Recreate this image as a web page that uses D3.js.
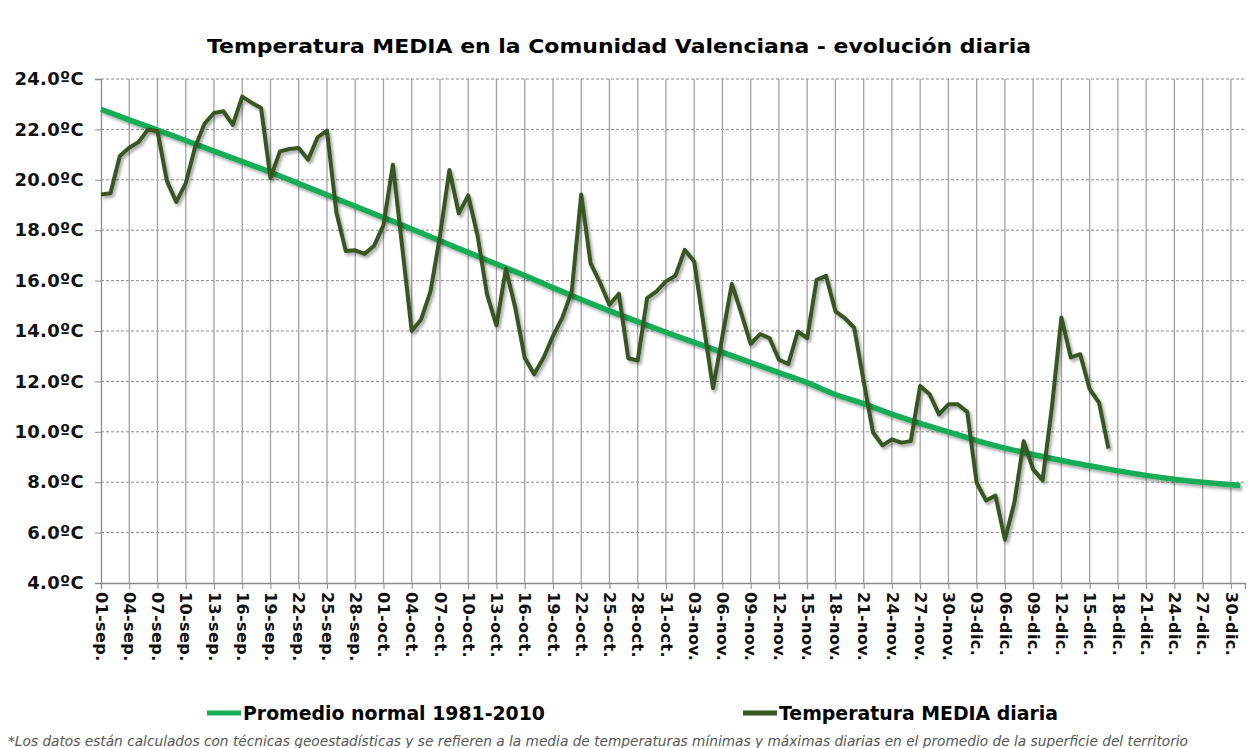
<!DOCTYPE html>
<html>
<head>
<meta charset="utf-8">
<script src="https://cdn.jsdelivr.net/npm/d3@7"></script>
<style>
  body { margin: 0; background: #fff; }
  text { font-family: "DejaVu Sans", Verdana, sans-serif; }
</style>
</head>
<body>
<svg id="chart" width="1248" height="748"></svg>
<script>
// temperatura media diaria, desde el 01-sep.
const dailyTemp = [
  19.42, 19.47, 20.94, 21.27, 21.5, 22.0, 21.93, 19.95, 19.12, 19.87,
  21.3, 22.23, 22.65, 22.72, 22.18, 23.3, 23.06, 22.85, 20.07, 21.13,
  21.22, 21.26, 20.8, 21.68, 21.95, 18.7, 17.17, 17.2, 17.06, 17.38,
  18.2, 20.6, 17.3, 14.0, 14.46, 15.58, 17.77, 20.39, 18.67, 19.38,
  17.77, 15.45, 14.22, 16.47, 14.92, 12.94, 12.28, 12.94, 13.8, 14.53,
  15.58, 19.42, 16.68, 15.92, 15.04, 15.48, 12.92, 12.83, 15.3, 15.57,
  15.97, 16.19, 17.22, 16.76, 14.25, 11.73, 13.8, 15.87, 14.71, 13.49,
  13.88, 13.72, 12.86, 12.69, 13.98, 13.72, 16.03, 16.19, 14.78, 14.51,
  14.12, 12.0, 9.97, 9.46, 9.7, 9.57, 9.63, 11.82, 11.49, 10.69,
  11.09, 11.09, 10.79, 7.98, 7.27, 7.47, 5.72, 7.18, 9.63, 8.51,
  8.08, 11.0, 14.54, 12.95, 13.08, 11.69, 11.16, 9.33
]

// promedio normal 1981-2010 (dia desde el 01-sep.)
const normalDay = [0, 3, 6, 9, 12, 15, 18, 21, 24, 27, 30, 33, 36, 39, 42, 45, 48, 51, 54, 57,
  60, 63, 66, 69, 72, 75, 78, 81, 84, 87, 90, 93, 96, 99, 102, 105, 108, 111, 114, 117, 120, 121]
const normalTemp = [22.8, 22.38, 21.97, 21.56, 21.14, 20.72, 20.3, 19.85, 19.4, 18.95,
  18.5, 18.05, 17.58, 17.12, 16.66, 16.2, 15.72, 15.25, 14.8, 14.37,
  13.95, 13.55, 13.15, 12.75, 12.35, 11.95, 11.48, 11.12, 10.7, 10.33,
  10.0, 9.65, 9.35, 9.1, 8.86, 8.65, 8.45, 8.27, 8.12, 8.0, 7.9, 7.87]

const xTickLabels = ['01-sep.', '04-sep.', '07-sep.', '10-sep.', '13-sep.', '16-sep.', '19-sep.',
  '22-sep.', '25-sep.', '28-sep.', '01-oct.', '04-oct.', '07-oct.', '10-oct.', '13-oct.',
  '16-oct.', '19-oct.', '22-oct.', '25-oct.', '28-oct.', '31-oct.', '03-nov.', '06-nov.',
  '09-nov.', '12-nov.', '15-nov.', '18-nov.', '21-nov.', '24-nov.', '27-nov.', '30-nov.',
  '03-dic.', '06-dic.', '09-dic.', '12-dic.', '15-dic.', '18-dic.', '21-dic.', '24-dic.',
  '27-dic.', '30-dic.']
const yTicks = [4, 6, 8, 10, 12, 14, 16, 18, 20, 22, 24]

const title = 'Temperatura MEDIA en la Comunidad Valenciana - evolución diaria'
const legendNames = ['Promedio normal 1981-2010', 'Temperatura MEDIA diaria']
const footnote = '*Los datos están calculados  con técnicas geoestadísticas y se refieren a la media de temperaturas mínimas y máximas diarias en el promedio de la superficie del territorio'

const margin = {left: 101, right: 3, top: 79, bottom: 165}
const width = 1248
const height = 748
const NORMAL_COLOR = '#16ad57'
const DAILY_COLOR = '#375623'

const svg = d3.select('#chart')

const x = d3.scaleLinear().domain([0, 121.5]).range([margin.left, width - margin.right])
const y = d3.scaleLinear().domain([4, 24]).range([height - margin.bottom, margin.top])

const defs = svg.append('defs')
const shadow = defs.append('filter').attr('id', 'shadow')
  .attr('x', '-5%').attr('y', '-5%').attr('width', '110%').attr('height', '115%')
shadow.append('feDropShadow')
  .attr('dx', 2).attr('dy', 2.5).attr('stdDeviation', 1.8)
  .attr('flood-color', '#000').attr('flood-opacity', 0.35)

// title
svg.append('text')
  .attr('x', 619).attr('y', 53)
  .attr('text-anchor', 'middle')
  .attr('font-size', 19.5).attr('font-weight', 'bold')
  .attr('textLength', 824).attr('lengthAdjust', 'spacingAndGlyphs')
  .text(title)

// horizontal dashed grid
svg.append('g')
  .selectAll('line')
  .data(yTicks.slice(1))
  .enter()
  .append('line')
  .attr('x1', x(0)).attr('x2', x(121.5))
  .attr('y1', d => y(d)).attr('y2', d => y(d))
  .attr('stroke', '#8a8a8a').attr('stroke-width', 1)
  .attr('stroke-dasharray', '3,2')

// vertical grid
const tickDays = xTickLabels.map((d, i) => i * 3)
svg.append('g')
  .selectAll('line')
  .data(tickDays.slice(1))
  .enter()
  .append('line')
  .attr('x1', d => x(d)).attr('x2', d => x(d))
  .attr('y1', y(24)).attr('y2', y(4))
  .attr('stroke', '#a2a2a2').attr('stroke-width', 1.3)

// axes
const yAxis = svg.append('g')
  .attr('transform', `translate(${x(0)},0)`)
  .call(d3.axisLeft(y).tickValues(yTicks).tickSize(6).tickPadding(11)
    .tickFormat(d => d3.format('.1f')(d) + 'ºC'))
yAxis.select('.domain').attr('stroke', '#8a8a8a').attr('stroke-width', 1.3)
yAxis.selectAll('.tick line').attr('stroke', '#8a8a8a')
yAxis.selectAll('.tick text')
  .attr('font-size', 18).attr('font-weight', 'bold').attr('fill', '#111')
  .attr('letter-spacing', 0.3)
  .attr('font-family', '"DejaVu Sans", Verdana, sans-serif')

const xAxis = svg.append('g')
  .attr('transform', `translate(0,${y(4)})`)
  .call(d3.axisBottom(x).tickValues(tickDays).tickSize(6)
    .tickFormat((d, i) => xTickLabels[i]))
xAxis.select('.domain').attr('stroke', '#8a8a8a').attr('stroke-width', 1.3)
xAxis.selectAll('.tick line').attr('stroke', '#8a8a8a')
xAxis.selectAll('.tick text')
  .attr('font-size', 16).attr('font-weight', 'bold').attr('fill', '#111')
  .attr('letter-spacing', 0.4)
  .attr('font-family', '"DejaVu Sans", Verdana, sans-serif')
  .attr('text-anchor', 'start')
  .attr('transform', 'rotate(90)')
  .attr('x', 9).attr('y', 0).attr('dy', '0.36em')

// lines
const normalLine = d3.line()
  .x((d, i) => x(normalDay[i]))
  .y(d => y(d))
  .curve(d3.curveMonotoneX)

svg.append('path')
  .datum(normalTemp)
  .attr('fill', 'none')
  .attr('stroke', NORMAL_COLOR)
  .attr('stroke-width', 5.5)
  .attr('filter', 'url(#shadow)')
  .attr('d', normalLine)

const dailyLine = d3.line()
  .x((d, i) => x(i))
  .y(d => y(d))

svg.append('path')
  .datum(dailyTemp)
  .attr('fill', 'none')
  .attr('stroke', DAILY_COLOR)
  .attr('stroke-width', 4)
  .attr('stroke-linejoin', 'round')
  .attr('filter', 'url(#shadow)')
  .attr('d', dailyLine)

// legend
const legend = svg.append('g')
const legendItems = [
  {name: legendNames[0], color: NORMAL_COLOR, x: 207, len: 302},
  {name: legendNames[1], color: DAILY_COLOR, x: 743, len: 279},
]
legendItems.forEach(item => {
  legend.append('line')
    .attr('x1', item.x).attr('x2', item.x + 34)
    .attr('y1', 713).attr('y2', 713)
    .attr('stroke', item.color).attr('stroke-width', 5)
  legend.append('text')
    .attr('x', item.x + 36).attr('y', 720)
    .attr('font-size', 19).attr('font-weight', 'bold')
    .attr('textLength', item.len).attr('lengthAdjust', 'spacingAndGlyphs')
    .text(item.name)
})

// footnote
svg.append('text')
  .attr('x', 8).attr('y', 746)
  .attr('font-family', '"Open Sans", sans-serif')
  .attr('font-style', 'italic')
  .attr('font-size', 13.5)
  .attr('fill', '#555')
  .attr('textLength', 1180).attr('lengthAdjust', 'spacingAndGlyphs')
  .text(footnote)
</script>
</body>
</html>
